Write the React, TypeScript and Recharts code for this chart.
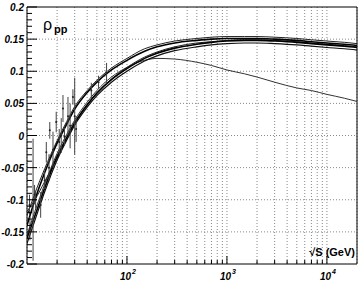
import React from 'react'
import {
  ComposedChart,
  Line,
  Scatter,
  ErrorBar,
  XAxis,
  YAxis,
  CartesianGrid,
  ReferenceLine,
  ReferenceArea,
} from 'recharts'

// sqrt(s) sampling points (GeV) for the model curves
const ENERGIES = [
  10, 12, 15, 20, 25, 30, 40, 50, 70, 100, 150, 200, 300, 500, 700, 1000, 1500, 2000, 3000, 5000,
  7000, 10000, 15000, 20000,
]

// model curves, rho_pp at each energy above
const CURVE_TOP = [
  -0.125, -0.09, -0.052, -0.008, 0.022, 0.045, 0.07, 0.086, 0.105, 0.12, 0.135, 0.141, 0.147,
  0.151, 0.153, 0.154, 0.154, 0.154, 0.153, 0.151, 0.149, 0.147, 0.145, 0.143,
]
const CURVE_UPPER = [
  -0.14, -0.1, -0.058, -0.012, 0.018, 0.041, 0.067, 0.083, 0.102, 0.117, 0.131, 0.138, 0.144,
  0.148, 0.15, 0.151, 0.151, 0.151, 0.15, 0.148, 0.146, 0.144, 0.142, 0.14,
]
const CURVE_MID = [
  -0.16, -0.125, -0.082, -0.033, -0.003, 0.02, 0.048, 0.066, 0.087, 0.104, 0.12, 0.128, 0.136,
  0.142, 0.145, 0.147, 0.148, 0.148, 0.147, 0.145, 0.143, 0.141, 0.139, 0.137,
]
const CURVE_LOW = [
  -0.168, -0.132, -0.088, -0.038, -0.007, 0.016, 0.044, 0.062, 0.083, 0.1, 0.116, 0.124, 0.132,
  0.138, 0.141, 0.143, 0.144, 0.144, 0.143, 0.141, 0.139, 0.137, 0.135, 0.133,
]
const CURVE_CROSS = [
  -0.118, -0.1, -0.072, -0.035, -0.006, 0.018, 0.047, 0.066, 0.088, 0.106, 0.122, 0.13, 0.138,
  0.144, 0.146, 0.148, 0.149, 0.149, 0.148, 0.146, 0.144, 0.142, 0.14, 0.138,
]
const CURVE_FALLING = [
  -0.155, -0.118, -0.076, -0.028, 0.002, 0.024, 0.052, 0.07, 0.091, 0.106, 0.117, 0.12, 0.119,
  0.114, 0.109, 0.102, 0.096, 0.091, 0.083, 0.074, 0.07, 0.064, 0.058, 0.053,
]

// measured points
const POINT_S = [
  10.6, 10.7, 11.5, 11.9, 12.2, 13.7, 15.0, 15.6, 16.6, 16.9, 18.2, 19.6, 21.0, 22.0, 22.9, 23.7,
  25.7, 27.0, 28.8, 30.0, 31.0, 44.0, 52.0, 62.5,
]
const POINT_RHO = [
  -0.108, -0.145, -0.1, -0.092, -0.1, -0.108, -0.07, -0.026, -0.05, 0.008, -0.022, 0.021, -0.01,
  0.0, 0.042, -0.002, 0.03, 0.015, 0.06, 0.03, 0.01, 0.07, 0.083, 0.097,
]
const POINT_ERR = [
  0.016, 0.018, 0.095, 0.015, 0.014, 0.02, 0.013, 0.016, 0.021, 0.013, 0.028, 0.016, 0.02, 0.027,
  0.021, 0.014, 0.03, 0.035, 0.012, 0.06, 0.02, 0.012, 0.01, 0.016,
]

// axis ticks
const X_TICKS = [
  20, 30, 40, 50, 60, 70, 80, 90, 100, 200, 300, 400, 500, 600, 700, 800, 900, 1000, 2000, 3000,
  4000, 5000, 6000, 7000, 8000, 9000, 10000,
]
const X_LABELS: Record<number, string> = { 100: '2', 1000: '3', 10000: '4' }
const Y_MAJOR = [0.2, 0.15, 0.1, 0.05, 0, -0.05, -0.1, -0.15, -0.2]
const Y_LABELS = ['0.2', '0.15', '0.1', '0.05', '0', '-0.05', '-0.1', '-0.15', '-0.2']
const Y_GRID = [0.15, 0.1, 0.05, 0, -0.05, -0.1, -0.15]

const Y_TICKS: number[] = []
for (let i = -20; i <= 20; i++) Y_TICKS.push(Math.round(i) / 100)

const toSeries = (vals: number[]) => ENERGIES.map((s, i) => ({ s, rho: vals[i] }))
const points = POINT_S.map((s, i) => ({ s, rho: POINT_RHO[i], err: POINT_ERR[i] }))

const FONT = '"Liberation Sans", Arial, sans-serif'

function XTick({ x, y, payload }: any) {
  const v = payload.value
  const major = X_LABELS[v] !== undefined
  return (
    <g>
      <line x1={x} x2={x} y1={y} y2={y - (major ? 8 : 4)} stroke="#000" />
      {major && (
        <text
          x={x + 1}
          y={y + 16}
          textAnchor="middle"
          fontFamily={FONT}
          fontWeight="bold"
          fontStyle="italic"
          fontSize={10}
          fill="#000"
        >
          10
          <tspan dx={1} dy={-6} fontSize={7}>
            {X_LABELS[v]}
          </tspan>
        </text>
      )}
    </g>
  )
}

function YTick({ x, y, payload }: any) {
  const v = payload.value
  const idx = Y_MAJOR.findIndex((m) => Math.abs(m - v) < 1e-9)
  const major = idx >= 0
  return (
    <g>
      <line x1={x} x2={x + (major ? 10 : 5)} y1={y} y2={y} stroke="#000" />
      {major && (
        <text
          x={x - 3}
          y={y + 4}
          textAnchor="end"
          fontFamily={FONT}
          fontWeight="bold"
          fontStyle="italic"
          fontSize={10}
          fill="#000"
        >
          {Y_LABELS[idx]}
        </text>
      )}
    </g>
  )
}

export default function App() {
  return (
    <div style={{ width: 360, height: 283 }}>
      <style>{'body{margin:0}'}</style>
      <ComposedChart width={360} height={283} margin={{ top: 7, right: 3, bottom: 0, left: 0 }}>
        <CartesianGrid
          horizontal={false}
          vertical={true}
          stroke="#888"
          strokeDasharray="1 2"
        />
        {Y_GRID.map((v) => (
          <ReferenceLine key={v} y={v} stroke="#888" strokeDasharray="1 2" />
        ))}
        <XAxis
          type="number"
          dataKey="s"
          scale="log"
          domain={[10, 20000]}
          allowDataOverflow
          ticks={X_TICKS}
          interval={0}
          height={19}
          tickSize={0}
          tickMargin={0}
          tickLine={false}
          axisLine={false}
          tick={<XTick />}
        />
        <YAxis
          type="number"
          domain={[-0.2, 0.2]}
          allowDataOverflow
          ticks={Y_TICKS}
          interval={0}
          width={27}
          tickSize={0}
          tickMargin={0}
          tickLine={false}
          axisLine={false}
          tick={<YTick />}
        />
        <ReferenceArea
          x1={10}
          x2={20000}
          y1={-0.2}
          y2={0.2}
          fill="none"
          stroke="#000"
          strokeWidth={1}
        />
        <Line data={toSeries(CURVE_FALLING)} dataKey="rho" type="monotone" stroke="#333" strokeWidth={1} dot={false} isAnimationActive={false} />
        <Line data={toSeries(CURVE_CROSS)} dataKey="rho" type="monotone" stroke="#222" strokeWidth={1} dot={false} isAnimationActive={false} />
        <Line data={toSeries(CURVE_TOP)} dataKey="rho" type="monotone" stroke="#222" strokeWidth={1} dot={false} isAnimationActive={false} />
        <Line data={toSeries(CURVE_UPPER)} dataKey="rho" type="monotone" stroke="#000" strokeWidth={1.6} dot={false} isAnimationActive={false} />
        <Line data={toSeries(CURVE_MID)} dataKey="rho" type="monotone" stroke="#000" strokeWidth={1.6} dot={false} isAnimationActive={false} />
        <Line data={toSeries(CURVE_LOW)} dataKey="rho" type="monotone" stroke="#111" strokeWidth={1.2} dot={false} isAnimationActive={false} />
        <Scatter
          data={points}
          dataKey="rho"
          fill="#222"
          shape={(p: any) => <circle cx={p.cx} cy={p.cy} r={1} fill="#222" />}
          isAnimationActive={false}
        >
          <ErrorBar dataKey="err" direction="y" width={0} stroke="#444" strokeWidth={1} />
        </Scatter>
        <text x={43} y={30} fontFamily={FONT} fontSize={16} fill="#000">
          ρ
        </text>
        <text x={54} y={33} fontFamily={FONT} fontSize={11} fontWeight="bold" fill="#000">
          pp
        </text>
        <text
          x={355}
          y={256}
          textAnchor="end"
          fontFamily={FONT}
          fontSize={11}
          fontWeight="bold"
          fill="#000"
        >
          √S (GeV)
        </text>
      </ComposedChart>
    </div>
  )
}
